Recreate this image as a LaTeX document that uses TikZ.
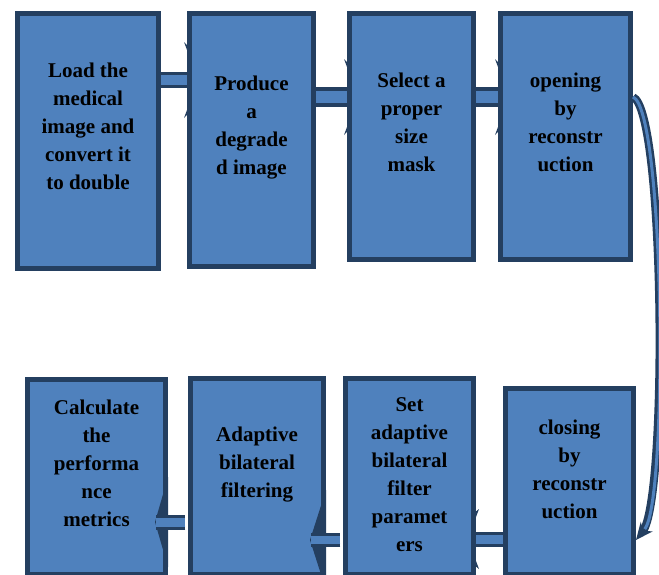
\documentclass[tikz,border=0pt]{standalone}
\usepackage{fontspec}
\setmainfont{Liberation Serif}
\usetikzlibrary{arrows.meta,backgrounds,calc}
\definecolor{boxfill}{HTML}{4F81BD}
\definecolor{boxline}{HTML}{243F60}
\tikzset{
  stepbox/.style={draw=boxline, fill=boxfill, line width=5.3pt, inner sep=0pt},
  lbl/.style={anchor=north, align=center, inner sep=0pt,
    font=\fontsize{21}{28}\selectfont\bfseries, text=black},
  shaft/.style={draw=boxline, line width=#1, double=boxfill},
  headfill/.style={fill=boxline},
}
% hidden right-pointing head: L = target left edge, y, half height
\newcommand\rheadhid[3]{%
  \fill[headfill] (#1-3,#2-#3) -- (#1+3,#2-#3+16) -- (#1+3,#2+#3-16) -- (#1-3,#2+#3) -- (#1+34,#2) -- cycle;}
% hidden left-pointing head: R = target right edge
\newcommand\lheadhid[3]{%
  \fill[headfill] (#1+3,#2-#3) -- (#1-3,#2-#3+16) -- (#1-3,#2+#3-16) -- (#1+3,#2+#3) -- (#1-34,#2) -- cycle;}
\begin{document}
\begin{tikzpicture}[x=1pt,y=-1pt]
\useasboundingbox (0,0) rectangle (659,574);
\clip (0,0) rectangle (659,574);

% boxes
\node[stepbox, minimum width=140.7pt, minimum height=254.7pt] (b1) at (88,141) {};
\node[stepbox, minimum width=123.7pt, minimum height=252.7pt] (b2) at (251.5,140) {};
\node[stepbox, minimum width=123.7pt, minimum height=245.7pt] (b3) at (411.5,136.5) {};
\node[stepbox, minimum width=129.7pt, minimum height=245.7pt] (b4) at (565.5,136.5) {};
\node[stepbox, minimum width=137.7pt, minimum height=194.7pt] (b5) at (96.5,477) {};
\node[stepbox, minimum width=132.7pt, minimum height=195.7pt] (b6) at (257,476.5) {};
\node[stepbox, minimum width=127.7pt, minimum height=195.7pt] (b7) at (409.5,476.5) {};
\node[stepbox, minimum width=127.7pt, minimum height=185.7pt] (b8) at (569.5,481.5) {};

% helper coordinates for connector heights
\coordinate (y80) at (0,80);
\coordinate (y97) at (0,97);
\coordinate (y539) at (0,539);
\coordinate (y540) at (0,540);
\coordinate (y522) at (0,522);

% connectors hidden behind boxes
\begin{scope}[on background layer]
  \fill[white] (0,0) rectangle (659,574);
  \draw[shaft=3pt, double distance=10pt] (b1.east |- y80) -- (b2.west |- y80);
  \draw[shaft=4pt, double distance=12pt] (b2.east |- y97) -- (b3.west |- y97);
  \draw[shaft=4pt, double distance=12pt] (b3.east |- y97) -- (b4.west |- y97);
  \draw[shaft=3pt, double distance=9pt] (b8.west |- y539) -- (b7.east |- y539);
  \rheadhid{187}{80}{38}
  \rheadhid{347}{97}{38}
  \rheadhid{498}{97}{38}
  \lheadhid{476}{539}{30}
\end{scope}

% connectors with heads visible inside the target box
\fill[headfill] (310,540) -- (326,490) -- (326,590) -- cycle;
\draw[shaft=3pt, double distance=8pt] ($(b7.west |- y540)+(-2.65,0)$) -- (311,540);
\fill[headfill] (155,522) -- (168,477) -- (168,567) -- cycle;
\draw[shaft=3pt, double distance=9pt] ($(b6.west |- y522)+(-2.65,0)$) -- (156,522);

% curved connector
\coordinate (c1) at (665,110);
\coordinate (c2) at (668,500);
\draw[boxline, line width=8pt, -{Stealth[length=17pt,width=15pt]}]
  ($(b4.east)+(0,-39.5)$) .. controls (c1) and (c2) .. ($(b8.east)+(0,58.5)$);
\draw[boxfill, line width=3pt, shorten >=14pt]
  ($(b4.east)+(0,-39.5)$) .. controls (c1) and (c2) .. ($(b8.east)+(0,58.5)$);

% labels
\node[lbl] (t1) at (88,57.4) {\strut Load the\\medical\\image and\\convert it\\to double};
\node[lbl] (t2) at (251.5,70.4) {\strut Produce\\a\\degrade\\d image};
\node[lbl] (t3) at (411.5,67.4) {\strut Select a\\proper\\size\\mask};
\node[lbl] (t4) at (565.5,67.4) {\strut opening\\by\\reconstr\\uction};
\node[lbl] (t5) at (96.5,394.4) {\strut Calculate\\the\\performa\\nce\\metrics};
\node[lbl] (t6) at (257,421.4) {\strut Adaptive\\bilateral\\filtering};
\node[lbl] (t7) at (409.5,391.4) {\strut Set\\adaptive\\bilateral\\filter\\paramet\\ers};
\node[lbl] (t8) at (569.5,414.4) {\strut closing\\by\\reconstr\\uction};
\end{tikzpicture}
\end{document}
